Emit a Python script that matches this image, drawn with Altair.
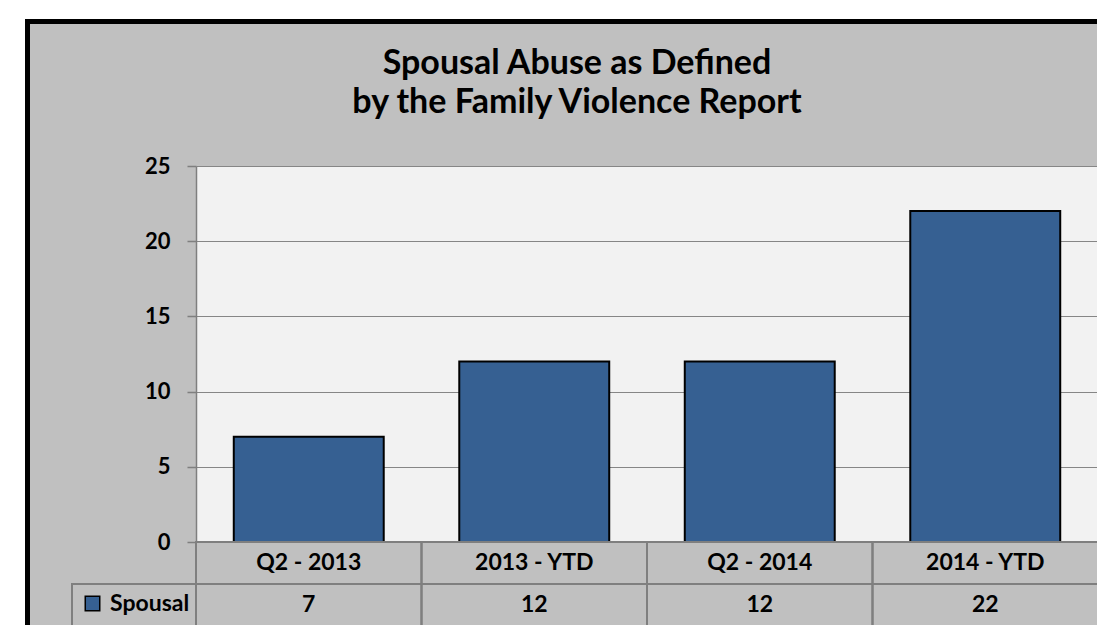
import altair as alt
import pandas as pd

categories = ["Q2 - 2013", "2013 - YTD", "Q2 - 2014", "2014 - YTD"]
values = [7, 12, 12, 22]
series_name = "Spousal"
y_ticks = [0, 5, 10, 15, 20, 25]
title_lines = ["Spousal Abuse as Defined", "by the Family Violence Report"]

FONT = "Lato"
BAR = "#366092"
BG = "#C0C0C0"
LINE = "#7F7F7F"

bars_df = pd.DataFrame({"cat": categories, "value": values, "series": [series_name] * len(values)})

rows = []
for c, v in zip(categories, values):
    rows.append({"cat": c, "row": "cat", "label": c})
    rows.append({"cat": c, "row": "val", "label": str(v)})
table_df = pd.DataFrame(rows)
legend_df = pd.DataFrame({"row": ["val"]})

W, H = 902, 376
TH = 84

xscale = alt.Scale(domain=categories, paddingInner=0.335, paddingOuter=0.1675)

bars = alt.Chart(bars_df).mark_bar(stroke="black", strokeWidth=2).encode(
    x=alt.X("cat:N", scale=xscale, axis=None, sort=categories),
    y=alt.Y("value:Q", scale=alt.Scale(domain=[0, 25], nice=False),
            axis=alt.Axis(values=y_ticks, title=None, grid=True, gridColor="#868686", gridWidth=1,
                          domainColor=LINE, domainWidth=1.5, tickColor=LINE, tickWidth=1.5, tickSize=9,
                          labelFont=FONT, labelFontSize=22, labelFontWeight="bold", labelColor="black",
                          labelPadding=17)),
    color=alt.Color("series:N", scale=alt.Scale(domain=[series_name], range=[BAR]),
                    legend=alt.Legend(orient="none", legendX=-115, legendY=426, title=None, padding=0,
                                      labelFont=FONT, labelFontSize=23, labelFontWeight="bold",
                                      labelColor="black", symbolType="square", symbolSize=210,
                                      symbolStrokeColor="black", symbolStrokeWidth=1.5,
                                      symbolOpacity=1, labelOffset=6)),
)

top = bars.properties(
    width=W, height=H,
    view=alt.ViewBackground(fill="#F2F2F2", stroke="transparent"),
    title=alt.Title(title_lines, font=FONT, fontSize=34, fontWeight="bold", color="black",
                    lineHeight=39, dx=-70, anchor="middle", frame="group", offset=35),
)

tx = alt.Scale(domain=categories, paddingInner=0, paddingOuter=0)
ty = alt.Scale(domain=["cat", "val"], paddingInner=0, paddingOuter=0)

cells = alt.Chart(table_df).mark_rect(fill="transparent", stroke=LINE, strokeWidth=2).encode(
    x=alt.X("cat:N", scale=tx, axis=None, sort=categories),
    y=alt.Y("row:N", scale=ty, axis=None),
)
texts = alt.Chart(table_df).mark_text(font=FONT, fontSize=23, fontWeight="bold", color="black").encode(
    x=alt.X("cat:N", scale=tx, axis=None, sort=categories),
    y=alt.Y("row:N", scale=ty, axis=None),
    text="label:N",
)
legend_cell = alt.Chart(legend_df).mark_rect(fill="transparent", stroke=LINE, strokeWidth=2).encode(
    x=alt.value(-124), x2=alt.value(0),
    y=alt.Y("row:N", scale=ty, axis=None),
)

# decorative frame: white margins and black border (top and left), relative to table origin
frame_df = pd.DataFrame({
    "x": [-188, -188, -171, -171], "x2": [906, -171, 906, -166],
    "y": [-534, -534, -523, -523], "y2": [-523, 90, -518, 90],
    "kind": ["w", "w", "b", "b"],
})
frame = alt.Chart(frame_df).mark_rect().encode(
    x=alt.X("x:Q", scale=None), x2="x2:Q",
    y=alt.Y("y:Q", scale=None), y2="y2:Q",
    fill=alt.Fill("kind:N", scale=alt.Scale(domain=["w", "b"], range=["white", "black"]), legend=None),
)

table = alt.layer(cells, texts, legend_cell, frame).properties(
    width=W, height=TH, view=alt.ViewBackground(fill="transparent", stroke="transparent"),
)

chart = alt.vconcat(top, table, spacing=0, bounds="flush").resolve_legend(
    color="independent", fill="independent").properties(
    background=BG,
    autosize=alt.AutoSizeParams(type="none"),
    padding={"left": 188, "top": 158, "right": -1, "bottom": 459},
).configure_view(stroke="transparent")

chart.save("out.html", embed_options={"renderer": "svg", "actions": False})
